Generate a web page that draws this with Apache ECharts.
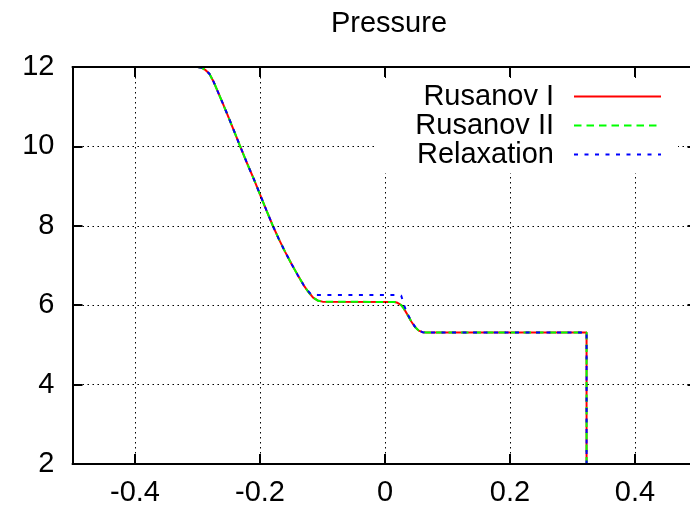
<!DOCTYPE html>
<html><head><meta charset="utf-8">
<script src="https://cdn.jsdelivr.net/npm/echarts@6/dist/echarts.min.js"></script>
<style>html,body{margin:0;padding:0;background:#fff}#c{width:690px;height:510px}</style>
</head><body><div id="c"></div>
<script>
const titleText = 'Pressure';
const seriesNames = ['Rusanov I', 'Rusanov II', 'Relaxation'];
const xTickLabels = ['-0.4', '-0.2', '0', '0.2', '0.4'];
const yTickLabels = ['2', '4', '6', '8', '10', '12'];
const xValues = [-0.5, -0.3, -0.293, -0.287, -0.281, -0.274, -0.267, -0.26, -0.25, -0.24, -0.233, -0.22, -0.21, -0.201, -0.19, -0.18, -0.17, -0.16, -0.15, -0.14, -0.13, -0.122, -0.118, -0.115, -0.108, -0.1, 0.015, 0.02, 0.026, 0.03, 0.036, 0.042, 0.048, 0.054, 0.06, 0.066, 0.3225, 0.3225, 0.5];
const rusanovI = [12, 12, 11.98, 11.92, 11.83, 11.62, 11.36, 11.10, 10.72, 10.33, 10.05, 9.55, 9.18, 8.83, 8.40, 8.02, 7.67, 7.35, 7.05, 6.77, 6.50, 6.32, 6.25, 6.19, 6.12, 6.09, 6.08, 6.06, 6.00, 5.92, 5.76, 5.59, 5.45, 5.36, 5.32, 5.31, 5.31, 2, 2];
const rusanovII = [12, 12, 11.98, 11.92, 11.83, 11.62, 11.36, 11.10, 10.72, 10.33, 10.05, 9.55, 9.18, 8.83, 8.40, 8.02, 7.67, 7.35, 7.05, 6.77, 6.50, 6.32, 6.25, 6.19, 6.12, 6.09, 6.08, 6.06, 6.00, 5.92, 5.76, 5.59, 5.45, 5.36, 5.32, 5.31, 5.31, 2, 2];
const relaxation = [12, 12, 11.98, 11.92, 11.83, 11.62, 11.36, 11.10, 10.72, 10.33, 10.05, 9.55, 9.18, 8.83, 8.40, 8.02, 7.67, 7.35, 7.05, 6.77, 6.50, 6.34, 6.27, 6.26, 6.26, 6.26, 6.26, 6.26, 6.24, 6.02, 5.78, 5.60, 5.46, 5.37, 5.32, 5.31, 5.31, 2, 2];

const FONT = "'Liberation Sans', Arial, Helvetica, sans-serif";
const FS = 29;
const colors = ['#ff0000', '#00ff00', '#0000ff'];
const dashes = ['solid', [7.5, 5], [4, 6.5]];
const seriesData = [rusanovI, rusanovII, relaxation];

function fmtX(v) {
  const s = String(Math.round(v * 10) / 10);
  return xTickLabels.indexOf(s) >= 0 ? s : '';
}
function fmtY(v) {
  const s = String(Math.round(v));
  return yTickLabels.indexOf(s) >= 0 ? s : '';
}

const chart = echarts.init(document.getElementById('c'), null, {renderer: 'canvas'});
const axisLine = {show: true, onZero: false, lineStyle: {color: '#000', width: 2}};
const axisTick = {show: true, inside: true, length: 10, lineStyle: {color: '#000', width: 2}};
const gridLine = {show: true, lineStyle: {color: '#000', width: 1, type: [1.5, 3.5]}};

chart.setOption({
  animation: false,
  backgroundColor: '#fff',
  title: {
    text: titleText, left: 384, top: 4, textAlign: 'center',
    textStyle: {fontSize: FS, fontWeight: 'normal', color: '#000', fontFamily: FONT}
  },
  grid: {left: 72.5, top: 67, width: 625, height: 397, containLabel: false, outerBoundsMode: 'none'},
  legend: {
    data: seriesNames, orient: 'vertical', align: 'right', right: 12, top: 78,
    padding: [4, 16, 4, 41], backgroundColor: '#fff', itemWidth: 87, itemHeight: 14, itemGap: 0,
    selectedMode: false, z: 5,
    itemStyle: {opacity: 0, borderWidth: 0},
    textStyle: {fontSize: FS, color: '#000', fontFamily: FONT, lineHeight: 29, padding: [0, 15, 0, 0]}
  },
  xAxis: [
    {type: 'value', position: 'bottom', min: -0.5, max: 0.5, splitNumber: 5, z: 3,
     axisLine: axisLine, axisTick: axisTick, splitLine: gridLine,
     axisLabel: {show: true, margin: 14, fontSize: FS, color: '#000', fontFamily: FONT,
                 showMinLabel: false, showMaxLabel: false, formatter: fmtX}},
    {type: 'value', position: 'top', min: -0.5, max: 0.5, splitNumber: 5, z: 3,
     axisLine: axisLine, axisTick: axisTick, splitLine: {show: false}, axisLabel: {show: false}}
  ],
  yAxis: [
    {type: 'value', position: 'left', min: 2, max: 12, interval: 2, z: 3,
     axisLine: axisLine, axisTick: axisTick, splitLine: gridLine,
     axisLabel: {show: true, margin: 18, fontSize: FS, color: '#000', fontFamily: FONT, formatter: fmtY}},
    {type: 'value', position: 'right', min: 2, max: 12, interval: 2, z: 3,
     axisLine: axisLine, axisTick: axisTick, splitLine: {show: false}, axisLabel: {show: false}}
  ],
  series: seriesNames.map((name, k) => ({
    name: name, type: 'line', xAxisIndex: 0, yAxisIndex: 0, symbol: 'none', z: 2,
    data: xValues.map((x, i) => [x, seriesData[k][i]]),
    lineStyle: {color: colors[k], width: 2, type: dashes[k]},
    itemStyle: {color: colors[k]},
    emphasis: {disabled: true}
  }))
});
</script>
</body></html>
